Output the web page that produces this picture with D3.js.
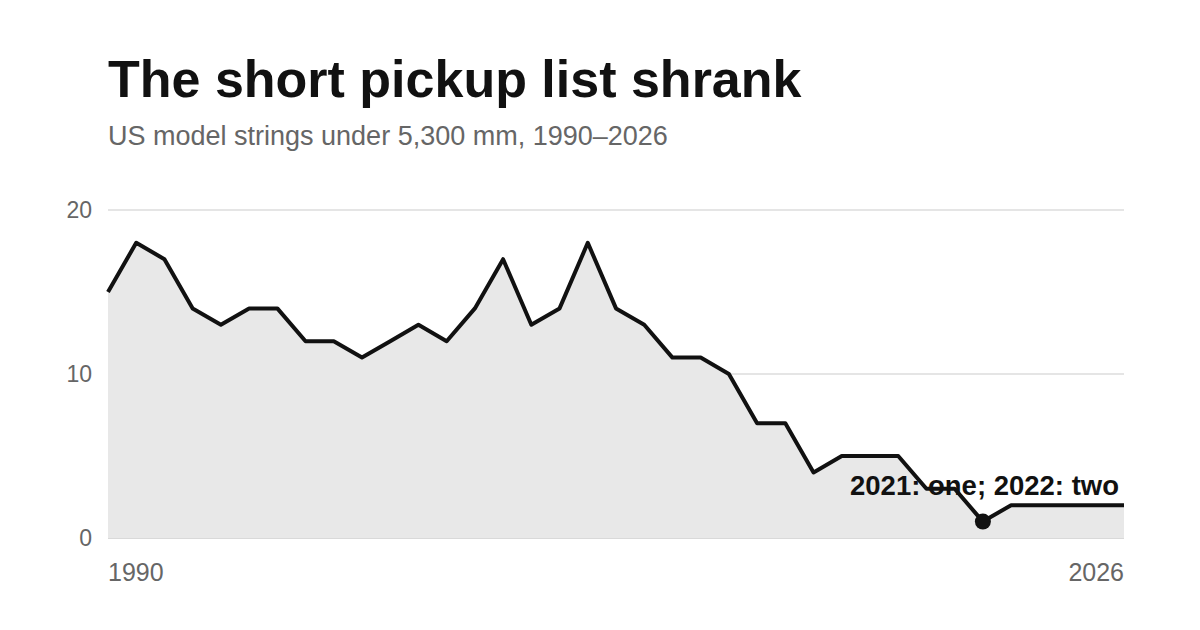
<!DOCTYPE html>
<html><head><meta charset="utf-8">
<script src="https://cdn.jsdelivr.net/npm/d3@7"></script>
<style>body{margin:0;background:#fff;font-family:"Liberation Sans",Arial,sans-serif}</style>
</head><body><svg id="c" width="1200" height="630"></svg>
<script>
const years = d3.range(1990, 2027);
const values = [15,18,17,14,13,14,14,12,12,11,12,13,12,14,17,13,14,18,14,13,11,11,10,7,7,4,5,5,5,3,3,1,2,2,2,2,2];
const yTicks = [0,10,20];
const xTickLabels = [1990, 2026];
const data = years.map((y,i)=>({year:y,value:values[i]}));
const svg = d3.select("#c");
const x = d3.scaleLinear().domain([1990,2026]).range([108,1124]);
const y = d3.scaleLinear().domain([0,20]).range([538,210]);
svg.append("text").attr("x",108).attr("y",97).attr("font-size",52).attr("font-weight","bold").attr("fill","#111").text("The short pickup list shrank");
svg.append("text").attr("x",108).attr("y",145).attr("font-size",27).attr("fill","#666").text("US model strings under 5,300 mm, 1990–2026");
yTicks.forEach(t=>{
  svg.append("line").attr("x1",108).attr("x2",1124).attr("y1",y(t)).attr("y2",y(t)).attr("stroke",t===0?"#ccc":"#ddd").attr("stroke-width",1.5);
  svg.append("text").attr("x",92).attr("y",y(t)+8).attr("text-anchor","end").attr("font-size",23).attr("fill","#666").text(t);
});
svg.append("path").datum(data).attr("fill","#e8e8e8")
  .attr("d",d3.area().x(d=>x(d.year)).y0(y(0)).y1(d=>y(d.value)));
svg.append("path").datum(data).attr("fill","none").attr("stroke","#111").attr("stroke-width",4).attr("stroke-linejoin","round")
  .attr("d",d3.line().x(d=>x(d.year)).y(d=>y(d.value)));
xTickLabels.forEach((t,i)=>{
  svg.append("text").attr("x",x(t)).attr("y",581).attr("text-anchor",i===0?"start":"end").attr("font-size",25).attr("fill","#666").text(t);
});
const p = data.find(d=>d.year===2021);
svg.append("circle").attr("cx",x(p.year)).attr("cy",y(p.value)).attr("r",8).attr("fill","#111");
svg.append("text").attr("x",1119).attr("y",495).attr("text-anchor","end").attr("font-size",27.5).attr("font-weight","bold").attr("fill","#111").text("2021: one; 2022: two");
</script></body></html>
